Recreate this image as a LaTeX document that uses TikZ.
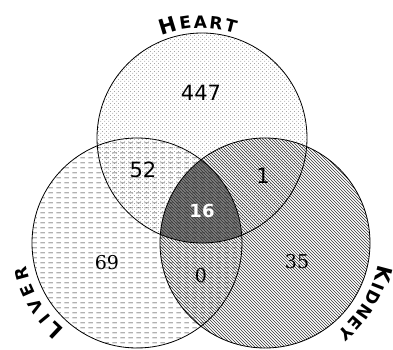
\documentclass[tikz,border=0pt]{standalone}
\usepackage{fontspec}
\newfontfamily\labelfont{DejaVu Sans}
\newfontfamily\numsans{DejaVu Sans}
\newfontfamily\numserif{DejaVu Serif}
\usetikzlibrary{patterns, patterns.meta, decorations.text}

\newcommand\lbig{\labelfont\bfseries\fontsize{21}{21}\selectfont}
\newcommand\lsmall{\labelfont\bfseries\fontsize{17}{17}\selectfont}
\newcommand\lgap[1]{\labelfont\fontsize{#1}{#1}\selectfont}

\tikzdeclarepattern{
	name=heartdots,
	type=uncolored,
	bounding box={(0pt,0pt) and (4pt,4pt)},
	tile size={(4pt,4pt)},
	code={
		\fill (1pt,1pt) circle[radius=0.55pt];
		\fill (3pt,3pt) circle[radius=0.45pt];
	}
}
\tikzdeclarepattern{
	name=liverdash,
	type=uncolored,
	bounding box={(0pt,0pt) and (8pt,5pt)},
	tile size={(8pt,5pt)},
	code={\draw[line width=0.75pt] (0.5pt,2.5pt) -- (5.5pt,2.5pt);}
}

\tikzset{
	setcircle/.style={
			draw=black,
			line width=0.8pt
		},
	heartfill/.style={
			pattern=heartdots,
			pattern color=black!60
		},
	liverfill/.style={
			pattern=liverdash,
			pattern color=black!85
		},
	kidneyfill/.style={
			pattern=north west lines,
			pattern color=black!80
		},
	corefill/.style={
			fill=black!50
		},
	sansnum/.style={
			font=\numsans\fontsize{21}{21}\selectfont
		},
	serifnum/.style={
			font=\numserif\fontsize{19}{19}\selectfont
		},
	corenum/.style={
			font=\numsans\bfseries\fontsize{18}{18}\selectfont,
			text=white
		}
}

\begin{document}
\begin{tikzpicture}[x=1pt, y=1pt]
\useasboundingbox (0,0) rectangle (393,350);
\coordinate (heart) at (202,212);
\coordinate (liver) at (137,107);
\coordinate (kidney) at (265,107);

% shaded centre
\begin{scope}
\clip (heart) circle[radius=105];
\clip (liver) circle[radius=105];
\fill[corefill] (kidney) circle[radius=105];
\end{scope}

\fill[heartfill] (heart) circle[radius=105];
\fill[liverfill] (liver) circle[radius=105];
\fill[kidneyfill] (kidney) circle[radius=105];

\draw[setcircle] (heart) circle[radius=105];
\draw[setcircle] (liver) circle[radius=105];
\draw[setcircle] (kidney) circle[radius=105];

% set labels
\path[decorate, decoration={text along path, text align=center,
    text={|\lbig|H|\lgap{6}| |\lsmall|E|\lgap{6}| |\lsmall|A|\lgap{6}| |\lsmall|R|\lgap{6}| |\lsmall|T}}]
  ([shift={(135:110)}]heart) arc[start angle=135, end angle=49, radius=110];
\path[decorate, decoration={text along path, text align=center,
    text={|\lbig|L|\lgap{14}| |\lsmall|I|\lgap{14}| |\lsmall|V|\lgap{14}| |\lsmall|E|\lgap{14}| |\lsmall|R}}]
  ([shift={(251:113)}]liver) arc[start angle=251, end angle=171, radius=113];
\path[decorate, decoration={text along path, text align=center,
    text={|\lbig|K|\lgap{4}| |\lsmall|I|\lgap{4}| |\lsmall|D|\lgap{4}| |\lsmall|N|\lgap{4}| |\lsmall|E|\lgap{4}| |\lsmall|Y}}]
  ([shift={(9:115)}]kidney) arc[start angle=9, end angle=-71, radius=115];

% counts
\node[sansnum] (nheart) at (201,257.5) {447};
\node[sansnum] (nhl) at (143,180) {52};
\node[sansnum] (nhk) at (263,174) {1};
\node[corenum] (nall) at (202,139) {16};
\node[serifnum] (nliver) at (107,87) {69};
\node[serifnum] (nlk) at (201,74.5) {0};
\node[serifnum] (nkidney) at (297,88.5) {35};

\end{tikzpicture}
\end{document}
